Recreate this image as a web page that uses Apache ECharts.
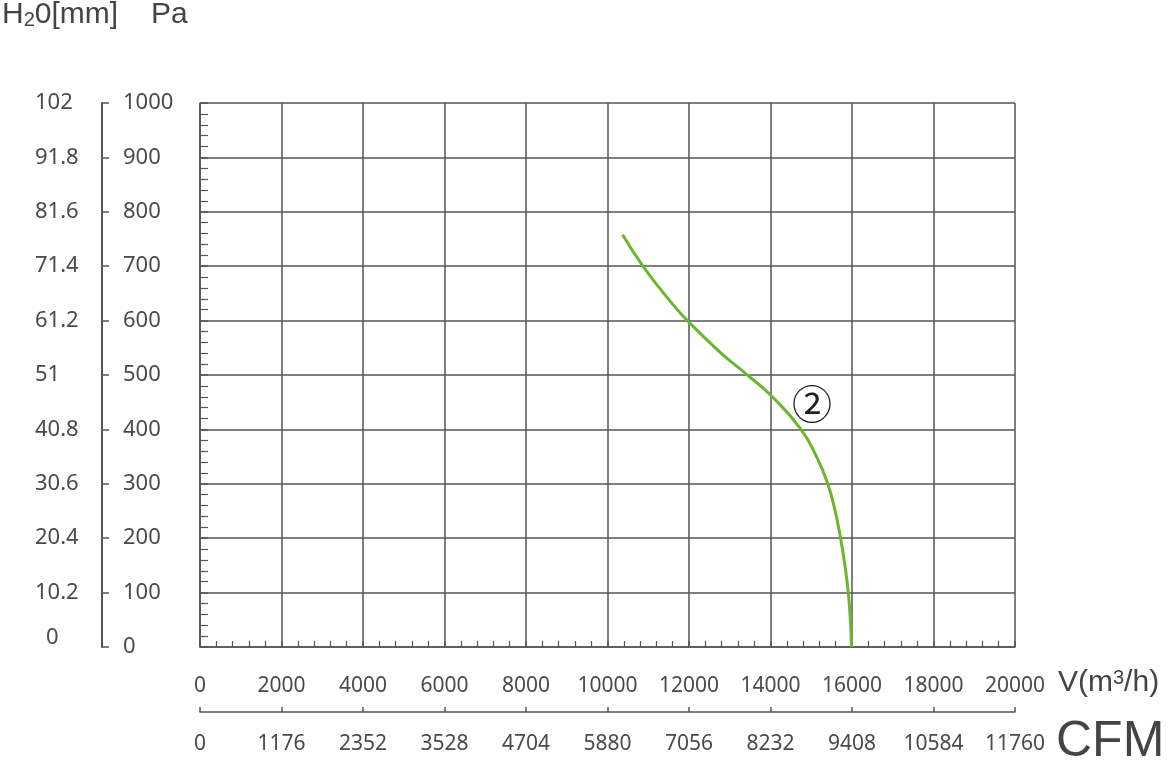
<!DOCTYPE html>
<html>
<head>
<meta charset="utf-8">
<script src="https://cdn.jsdelivr.net/npm/echarts@6/dist/echarts.min.js"></script>
<style>html,body{margin:0;padding:0;background:#fff;}#c{width:1174px;height:764px;}</style>
</head>
<body>
<div id="c"></div>
<script>
// ---- data ----
var flowTicks = [0, 2000, 4000, 6000, 8000, 10000, 12000, 14000, 16000, 18000, 20000];
var cfmLabels = ['0', '1176', '2352', '3528', '4704', '5880', '7056', '8232', '9408', '10584', '11760'];
var paTicks = [0, 100, 200, 300, 400, 500, 600, 700, 800, 900, 1000];
var h2oLabels = ['0', '10.2', '20.4', '30.6', '40.8', '51', '61.2', '71.4', '81.6', '91.8', '102'];
var curveFlow = [10370, 11370, 12600, 13450, 14030, 14730, 15130, 15400, 15580, 15720, 15830, 15910, 15960, 15990];
var curvePa   = [758,   651,   553,   499,   461,   402,   350,   301,   252,   200,   148,   99,    50,    0];
var curveLabel = '②';
var labelAt = [15020, 447];

var curveData = curveFlow.map(function (v, i) { return [v, curvePa[i]]; });
var gridColor = '#555';
var txt = '#4a4a4a';
var tickFont = 'Noto Sans';

var chart = echarts.init(document.getElementById('c'), null, { renderer: 'canvas' });
chart.setOption({
  animation: false,
  backgroundColor: '#fff',
  grid: { left: 200, right: 159, top: 103, bottom: 117 },
  xAxis: [
    {
      type: 'value', min: flowTicks[0], max: flowTicks[flowTicks.length - 1], interval: 2000,
      position: 'bottom',
      axisLine: { show: true, onZero: false, lineStyle: { color: gridColor, width: 1.5 } },
      axisTick: { show: true, inside: true, length: 6, lineStyle: { color: gridColor, width: 1.5 } },
      minorTick: { show: true, splitNumber: 5, length: 6, lineStyle: { color: gridColor, width: 1.2 } },
      splitLine: { show: true, lineStyle: { color: gridColor, width: 1.5 } },
      axisLabel: { show: true, margin: 29, fontSize: 21, color: txt, fontFamily: tickFont,
        formatter: function (v) { var i = flowTicks.indexOf(v); return i >= 0 ? String(flowTicks[i]) : ''; } }
    },
    {
      type: 'value', min: flowTicks[0], max: flowTicks[flowTicks.length - 1], interval: 2000,
      position: 'bottom', offset: 65,
      axisLine: { show: true, onZero: false, lineStyle: { color: gridColor, width: 1.5 } },
      axisTick: { show: true, inside: true, length: 5, lineStyle: { color: gridColor, width: 1.5 } },
      splitLine: { show: false },
      axisLabel: { show: true, margin: 22, fontSize: 21, color: txt, fontFamily: tickFont,
        formatter: function (v) { var i = flowTicks.indexOf(v); return i >= 0 ? cfmLabels[i] : ''; } }
    }
  ],
  yAxis: [
    {
      type: 'value', min: 0, max: 1000, interval: 100, position: 'left',
      axisLine: { show: true, onZero: false, lineStyle: { color: gridColor, width: 1.5 } },
      axisTick: { show: true, inside: true, length: 8, lineStyle: { color: gridColor, width: 1.5 } },
      minorTick: { show: true, splitNumber: 5, length: 8, lineStyle: { color: gridColor, width: 1.2 } },
      splitLine: { show: true, lineStyle: { color: gridColor, width: 1.5 } },
      axisLabel: { show: false }
    },
    {
      type: 'value', min: 0, max: 1000, interval: 100, position: 'left', offset: 98,
      axisLine: { show: true, onZero: false, lineStyle: { color: gridColor, width: 2 } },
      axisTick: { show: true, inside: true, length: 7, lineStyle: { color: gridColor, width: 1.5 } },
      splitLine: { show: false },
      axisLabel: { show: true, inside: true, margin: 21, fontSize: 22, color: txt, fontFamily: tickFont, align: 'left',
        formatter: function (v) { var i = paTicks.indexOf(v); return i >= 0 ? String(paTicks[i]) : ''; } }
    },
    {
      type: 'value', min: 0, max: 1000, interval: 100, position: 'left', offset: 165,
      axisLine: { show: false, onZero: false }, axisTick: { show: false }, splitLine: { show: false },
      axisLabel: { show: true, inside: true, margin: 0, fontSize: 22, color: txt, fontFamily: tickFont, align: 'left',
        formatter: function (v) {
          var i = paTicks.indexOf(v);
          if (i < 0) return '';
          return i === 0 ? '{z|' + h2oLabels[i] + '}' : h2oLabels[i];
        },
        rich: { z: { fontSize: 22, color: txt, fontFamily: tickFont, padding: [0, 0, 18, 11] } } }
    }
  ],
  series: [
    {
      type: 'line', xAxisIndex: 0, yAxisIndex: 0, data: curveData, smooth: 0.5,
      symbol: 'none', lineStyle: { color: '#6cb62f', width: 3 },
      markPoint: {
        symbol: 'circle', symbolSize: 0,
        data: [{ coord: labelAt, value: curveLabel }],
        label: { show: true, formatter: curveLabel, fontSize: 40, color: '#222', fontFamily: 'Noto Sans CJK SC', position: 'inside' }
      }
    }
  ],
  graphic: [
    { type: 'text', left: 2, top: 0, style: { text: 'H{s|2}0[mm]', fontSize: 30, fill: '#444', fontFamily: 'Liberation Sans',
      rich: { s: { fontSize: 20, fill: '#444', fontFamily: 'Liberation Sans', padding: [10, 0, 0, 0] } } } },
    { type: 'text', left: 151, top: 0, style: { text: 'Pa', fontSize: 30, fill: '#444', fontFamily: 'Liberation Sans' } },
    { type: 'text', left: 1058, top: 668, style: { text: 'V(m{p|3}/h)', fontSize: 30, fill: '#444', fontFamily: 'Liberation Sans',
      rich: { p: { fontSize: 20, fill: '#444', fontFamily: 'Liberation Sans', padding: [0, 0, 10, 0] } } } },
    { type: 'text', left: 1056, top: 717, style: { text: 'CFM', fontSize: 50, fill: '#444', fontFamily: 'Liberation Sans' } }
  ]
});
</script>
</body>
</html>
